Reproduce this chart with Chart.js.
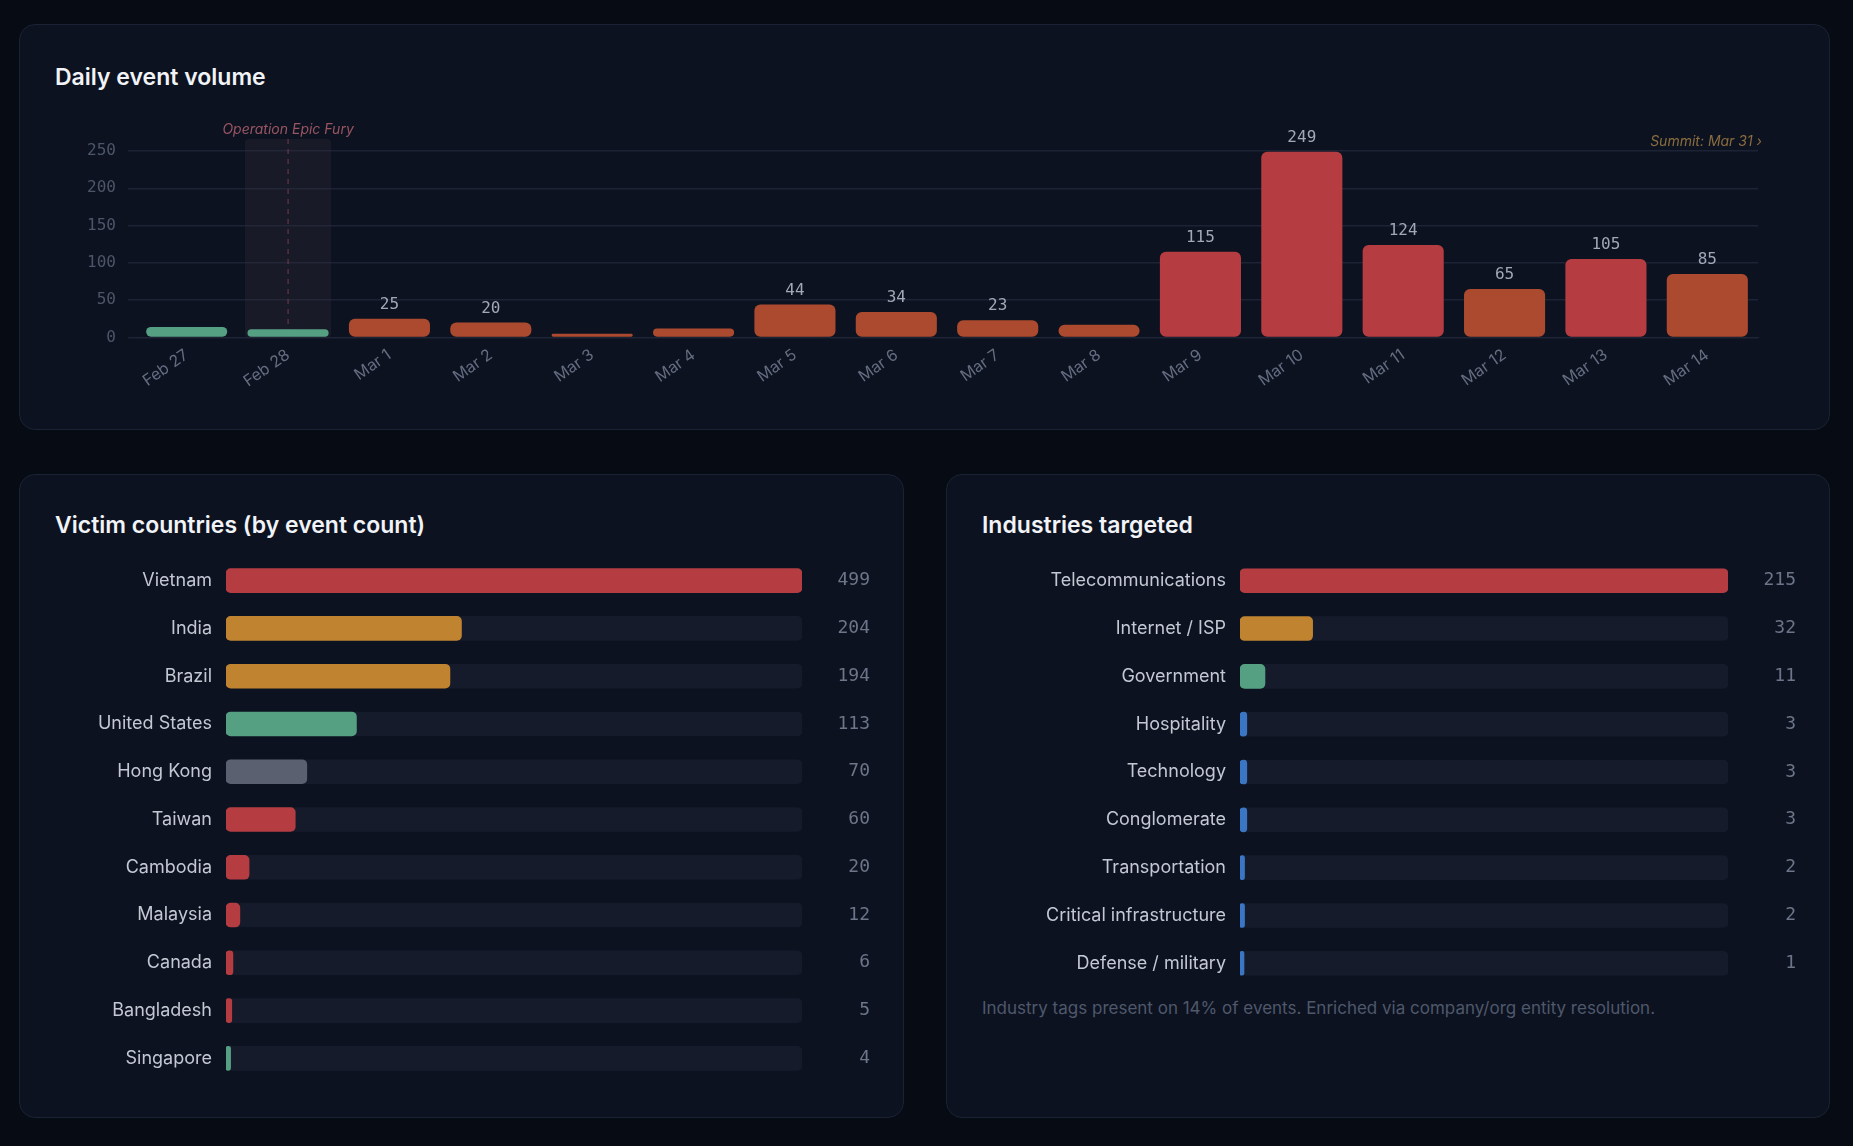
<!DOCTYPE html>
<html>
<head>
<meta charset="utf-8">
<script src="https://cdn.jsdelivr.net/npm/chart.js@4.4.1/dist/chart.umd.min.js"></script>
<style>
  body { margin: 0; background: #070b14; width: 1853px; height: 1146px; overflow: hidden; font-family: 'Inter', 'Noto Sans', sans-serif; }
  .card { position: absolute; background: #0c1220; border: 1px solid #1b2233; border-radius: 16px; box-sizing: border-box; }
  .card h2 { position: absolute; left: 35px; margin: 0; color: #f1f3f7; font-size: 23px; font-weight: 600; }
  .box { position: absolute; }
  .note { position: absolute; color: #4f586b; font-size: 17px; }
</style>
</head>
<body>
<div class="card" style="left:19px;top:24px;width:1811px;height:406px;"><h2 style="top:38px">Daily event volume</h2></div>
<div class="card" style="left:19px;top:474px;width:885px;height:644px;"><h2 style="top:36px">Victim countries (by event count)</h2></div>
<div class="card" style="left:946px;top:474px;width:884px;height:644px;"><h2 style="top:36px">Industries targeted</h2>
  <div class="note" style="left:35px;top:523px">Industry tags present on 14% of events. Enriched via company/org entity resolution.</div></div>

<div class="box" style="left:60px;top:113px;width:1730px;height:278px;"><canvas id="daily"></canvas></div>
<div class="box" style="left:40px;top:540px;width:840px;height:559px;"><canvas id="countries"></canvas></div>
<div class="box" style="left:966px;top:540px;width:840px;height:464px;"><canvas id="industries"></canvas></div>

<script>
// Daily volume
const days = ['Feb 27','Feb 28','Mar 1','Mar 2','Mar 3','Mar 4','Mar 5','Mar 6','Mar 7','Mar 8','Mar 9','Mar 10','Mar 11','Mar 12','Mar 13','Mar 14'];
const dailyCounts = [14, 11, 25, 20, 5, 12, 44, 34, 23, 17, 115, 249, 124, 65, 105, 85];
const yTicks = [0, 50, 100, 150, 200, 250];

// Countries
const countries = ['Vietnam','India','Brazil','United States','Hong Kong','Taiwan','Cambodia','Malaysia','Canada','Bangladesh','Singapore'];
const countryCounts = [499, 204, 194, 113, 70, 60, 20, 12, 6, 5, 4];
const countryColors = ['#b53d42','#c0832f','#c0832f','#55a082','#5a6070','#b53d42','#b53d42','#b53d42','#b53d42','#b53d42','#55a082'];

// Industries
const industries = ['Telecommunications','Internet / ISP','Government','Hospitality','Technology','Conglomerate','Transportation','Critical infrastructure','Defense / military'];
const industryCounts = [215, 32, 11, 3, 3, 3, 2, 2, 1];
const industryColors = ['#b53d42','#c0832f','#55a082','#3b76c4','#3b76c4','#3b76c4','#3b76c4','#3b76c4','#3b76c4'];

const MONO = "'DejaVu Sans Mono', monospace";
const SANS = "'Inter', 'Noto Sans', sans-serif";

function dayColor(v, i) {
  if (i < 2) return '#55a082';
  return v >= 100 ? '#b53d42' : '#ab4a2e';
}

const dailyOverlay = {
  id: 'dailyOverlay',
  beforeDatasetsDraw(chart) {
    const { ctx, chartArea, scales } = chart;
    const x = scales.x.getPixelForValue(1);
    const w = (scales.x.getPixelForValue(1) - scales.x.getPixelForValue(0)) * 0.85;
    const base = scales.y.getPixelForValue(0);
    ctx.save();
    ctx.fillStyle = 'rgba(60,50,65,0.25)';
    ctx.beginPath();
    ctx.roundRect(x - w / 2, chartArea.top - 12, w, base - chartArea.top + 12, 4);
    ctx.fill();
    ctx.strokeStyle = 'rgba(180,80,100,0.6)';
    ctx.setLineDash([5, 5]);
    ctx.lineWidth = 1;
    ctx.beginPath();
    ctx.moveTo(x, chartArea.top - 12);
    ctx.lineTo(x, base);
    ctx.stroke();
    ctx.setLineDash([]);
    ctx.font = 'italic 14px ' + SANS;
    ctx.fillStyle = '#9a5562';
    ctx.textAlign = 'center';
    ctx.textBaseline = 'bottom';
    ctx.fillText('Operation Epic Fury', x, chartArea.top - 14);
    ctx.fillStyle = '#8a6d3f';
    ctx.textAlign = 'right';
    ctx.fillText('Summit: Mar 31 \u203a', chartArea.right + 4, chartArea.top - 2);
    ctx.restore();
  },
  afterDatasetsDraw(chart) {
    const { ctx } = chart;
    const meta = chart.getDatasetMeta(0);
    ctx.save();
    ctx.font = '16px ' + MONO;
    ctx.fillStyle = '#a2a8b6';
    ctx.textAlign = 'center';
    ctx.textBaseline = 'bottom';
    meta.data.forEach((bar, i) => {
      const v = dailyCounts[i];
      if (v >= 20) ctx.fillText(v, bar.x, bar.y - 6);
    });
    ctx.restore();
  }
};

new Chart(document.getElementById('daily'), {
  type: 'bar',
  data: {
    labels: days,
    datasets: [{
      data: dailyCounts,
      backgroundColor: dailyCounts.map(dayColor),
      borderRadius: 6,
      borderSkipped: false,
      barPercentage: 0.8,
      categoryPercentage: 1
    }]
  },
  options: {
    responsive: true, maintainAspectRatio: false, animation: false,
    layout: { padding: { top: 38, right: 32 } },
    plugins: { legend: { display: false }, tooltip: { enabled: false } },
    scales: {
      x: {
        grid: { display: false },
        border: { color: '#1e2536' },
        ticks: { color: '#646d80', font: { family: SANS, size: 16 }, maxRotation: 35, minRotation: 35, padding: 0 }
      },
      y: {
        min: 0, max: 250,
        afterFit(s) { s.width = 76; },
        afterBuildTicks(s) { s.ticks = yTicks.map(v => ({ value: v })); },
        grid: { color: '#1c2334', lineWidth: 1.5 },
        border: { display: false },
        ticks: { color: '#4d5568', font: { family: MONO, size: 16 }, padding: 12 }
      }
    }
  },
  plugins: [dailyOverlay]
});

function hbar(id, labels, values, colors, labelWidth) {
  const max = Math.max(...values);
  const valueLabels = {
    id: 'valueLabels',
    afterDatasetsDraw(chart) {
      const { ctx, chartArea } = chart;
      const meta = chart.getDatasetMeta(1);
      ctx.save();
      ctx.font = '18px ' + MONO;
      ctx.fillStyle = '#6d7588';
      ctx.textAlign = 'right';
      ctx.textBaseline = 'middle';
      meta.data.forEach((bar, i) => ctx.fillText(values[i], chartArea.right + 68, bar.y));
      ctx.restore();
    }
  };
  new Chart(document.getElementById(id), {
    type: 'bar',
    data: {
      labels: labels,
      datasets: [
        { data: values.map(() => max), backgroundColor: '#151b2a', borderRadius: 5, borderSkipped: false, barThickness: 24, grouped: false, order: 2 },
        { data: values, backgroundColor: colors, borderRadius: 5, borderSkipped: false, barThickness: 24, grouped: false, order: 1, minBarLength: 4 }
      ]
    },
    options: {
      indexAxis: 'y',
      responsive: true, maintainAspectRatio: false, animation: false,
      layout: { padding: { right: 78 } },
      plugins: { legend: { display: false }, tooltip: { enabled: false } },
      scales: {
        x: { display: false, min: 0, max: max },
        y: {
          afterFit(s) { s.width = labelWidth; },
          grid: { display: false }, border: { display: false },
          ticks: { color: '#c3c8d3', font: { family: SANS, size: 18 }, padding: 6 }
        }
      }
    },
    plugins: [valueLabels]
  });
}

hbar('countries', countries, countryCounts, countryColors, 186);
hbar('industries', industries, industryCounts, industryColors, 274);
</script>
</body>
</html>
